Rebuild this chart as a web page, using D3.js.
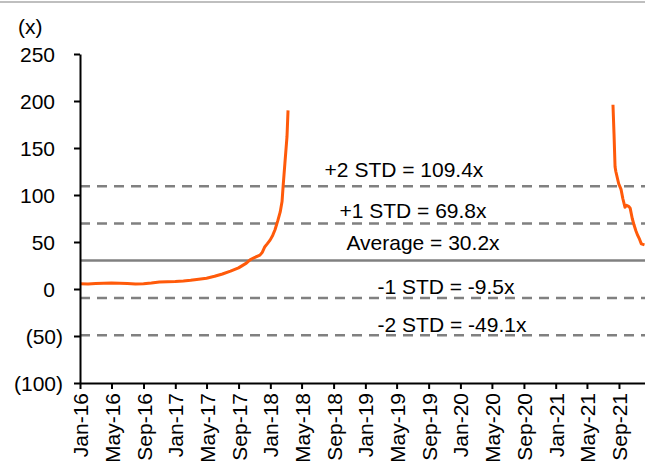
<!DOCTYPE html>
<html>
<head>
<meta charset="utf-8">
<script src="https://cdn.jsdelivr.net/npm/d3@7"></script>
<style>
 body { margin: 0; background: #fff; }
 svg text { font-family: "Liberation Sans", Arial, sans-serif; fill: #000; }
</style>
</head>
<body>
<script>
'use strict'
// P/E band chart: orange P/E line with average and +/- STD reference lines

// P/E series (null breaks the line where P/E was negative / not meaningful)
const dates = [
 "2016-01-01","2016-02-01","2016-03-01","2016-04-01","2016-05-01","2016-06-01",
 "2016-07-01","2016-08-01","2016-09-01","2016-10-01","2016-11-01","2016-12-01",
 "2017-01-01","2017-02-01","2017-03-01","2017-04-01","2017-05-01","2017-06-01",
 "2017-07-01","2017-08-01","2017-09-01","2017-10-01","2017-10-15","2017-11-01",
 "2017-11-22","2017-12-01","2017-12-11","2017-12-20","2017-12-31","2018-01-10",
 "2018-01-19","2018-01-30","2018-02-08","2018-02-15","2018-02-19","2018-02-26",
 "2018-03-06","2018-03-10",
 "2019-06-01",
 "2021-08-09","2021-08-13","2021-08-17","2021-08-20","2021-08-31","2021-09-09",
 "2021-09-16","2021-09-24","2021-09-30","2021-10-08","2021-10-14","2021-10-22",
 "2021-10-29","2021-11-05","2021-11-12","2021-11-19","2021-11-26","2021-12-08"
];
const peRatio = [
 5.5, 5.2, 5.8, 6.0, 6.3, 6.1,
 5.9, 5.4, 5.5, 6.3, 7.4, 7.8,
 8.0, 8.5, 9.2, 10.3, 11.5, 13.5,
 16.0, 19.0, 22.5, 27.5, 31, 33.5,
 36, 39, 45, 48, 52, 57,
 63, 73, 82, 93, 109, 134,
 162, 190,
 null,
 196, 165, 130, 125, 112, 106,
 96, 87, 89, 88, 86, 75,
 68, 62, 57, 53, 48, 47
];

// reference lines
const refValues = [109.4, 69.8, 30.2, -9.5, -49.1];
const refLabels = ["+2 STD = 109.4x", "+1 STD = 69.8x", "Average = 30.2x", "-1 STD = -9.5x", "-2 STD = -49.1x"];
const refDashed = [true, true, false, true, true];

// y ticks
const yTicks = [-100, -50, 0, 50, 100, 150, 200, 250];

// label placement (layout only)
const labelCenterX = [404, 413, 423, 446, 452];
const labelRise = [9, 5, 11, 4, 3];

const W = 645, H = 461;
const FS = 21;
const parse = d3.timeParse("%Y-%m-%d");
const points = dates.map((d, i) => ({ date: parse(d), v: peRatio[i] }));

const x = d3.scaleTime()
 .domain([parse("2016-01-01"), parse("2021-12-10")])
 .range([80, 645]);
const y = d3.scaleLinear().domain([-100, 250]).range([383, 54]);

const svg = d3.select("body").append("svg")
 .attr("width", W)
 .attr("height", H);

// top border line
svg.append("line")
 .attr("x1", 0).attr("x2", W).attr("y1", 2).attr("y2", 2)
 .attr("stroke", "#bfbfbf").attr("stroke-width", 2);

// unit label
svg.append("text").attr("x", 18).attr("y", 34).attr("font-size", FS).text("(x)");

// reference lines
refValues.forEach((v, i) => {
 svg.append("line")
  .attr("x1", 80).attr("x2", W)
  .attr("y1", y(v)).attr("y2", y(v))
  .attr("stroke", "#808080")
  .attr("stroke-width", 2.5)
  .attr("stroke-dasharray", refDashed[i] ? "10,7" : null);
 svg.append("text")
  .attr("x", labelCenterX[i])
  .attr("y", y(v) - labelRise[i])
  .attr("text-anchor", "middle")
  .attr("font-size", FS)
  .text(refLabels[i]);
});

// P/E line
const line = d3.line()
 .defined(d => d.v !== null)
 .x(d => x(d.date))
 .y(d => y(d.v));
svg.append("path")
 .datum(points)
 .attr("d", line)
 .attr("fill", "none")
 .attr("stroke", "#ff5a0a")
 .attr("stroke-width", 3)
 .attr("stroke-linejoin", "round");

// y axis
const yAxis = svg.append("g").attr("transform", "translate(80,0)")
 .call(d3.axisLeft(y).tickValues(yTicks).tickSize(6).tickSizeOuter(0)
  .tickFormat(d => d < 0 ? "(" + Math.abs(d) + ")" : d));
yAxis.select(".domain").attr("stroke", "#000").attr("stroke-width", 2);
yAxis.selectAll(".tick line").attr("stroke", "#000").attr("stroke-width", 2);
yAxis.selectAll(".tick text")
 .attr("font-size", FS)
 .attr("font-family", "Liberation Sans, Arial, sans-serif")
 .attr("x", d => d < 0 ? -17 : -25)
 .attr("dy", "0.36em");

// x axis
const xAxis = svg.append("g").attr("transform", "translate(0,383)")
 .call(d3.axisBottom(x)
  .ticks(d3.timeMonth.every(4))
  .tickSize(6).tickSizeOuter(0)
  .tickFormat(d3.timeFormat("%b-%y")));
xAxis.select(".domain").attr("stroke", "#000").attr("stroke-width", 2);
xAxis.selectAll(".tick line").attr("stroke", "#000").attr("stroke-width", 2);
xAxis.selectAll(".tick text")
 .attr("font-size", FS)
 .attr("font-family", "Liberation Sans, Arial, sans-serif")
 .attr("text-anchor", "end")
 .attr("transform", "rotate(-90)")
 .attr("x", -10)
 .attr("y", 0)
 .attr("dy", "0.36em");
</script>
</body>
</html>
